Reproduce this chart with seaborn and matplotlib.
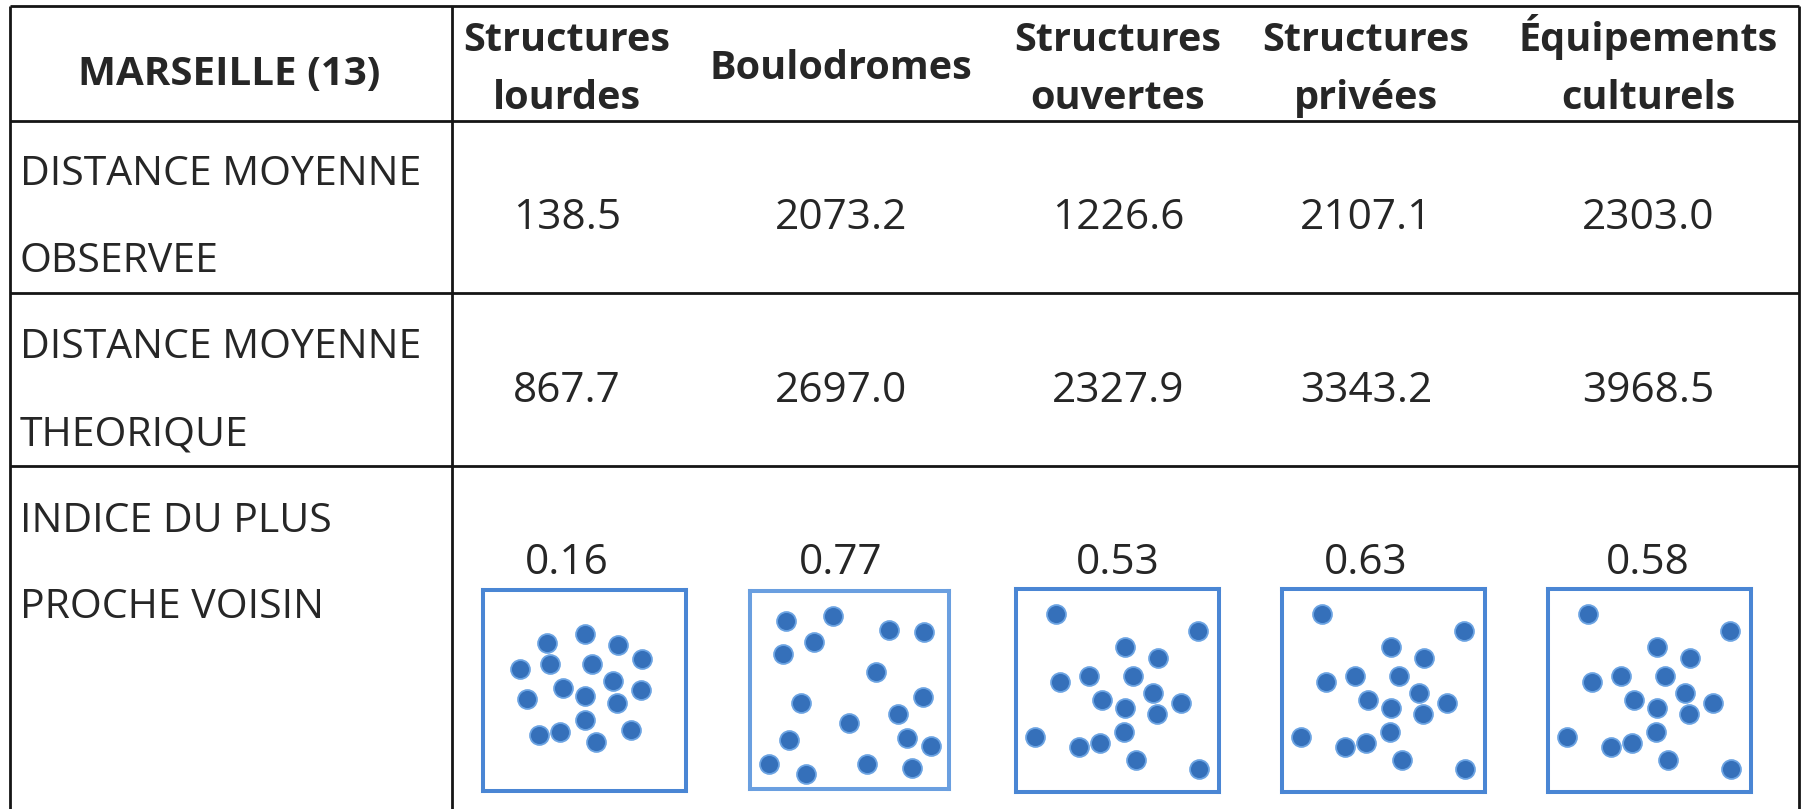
#IMPORT-------
import matplotlib
matplotlib.use('Agg')
import matplotlib.pyplot as plt
import seaborn as sns

#DATA---------
categories = ['Structures\nlourdes', 'Boulodromes', 'Structures\nouvertes',
              'Structures\nprivées', 'Équipements\nculturels']
corner_label = 'MARSEILLE (13)'
row_labels = ['DISTANCE MOYENNE\nOBSERVEE', 'DISTANCE MOYENNE\nTHEORIQUE',
              'INDICE DU PLUS\nPROCHE VOISIN']
dist_observee = [138.5, 2073.2, 1226.6, 2107.1, 2303.0]
dist_theorique = [867.7, 2697.0, 2327.9, 3343.2, 3968.5]
indice_ppv = [0.16, 0.77, 0.53, 0.63, 0.58]

#point patterns drawn in each box (fraction of box, y from top)
pts_lourdes_x = [0.313, 0.502, 0.664, 0.782, 0.180, 0.328, 0.539, 0.641, 0.392,
                 0.502, 0.779, 0.216, 0.661, 0.500, 0.275, 0.379, 0.556, 0.730]
pts_lourdes_y = [0.263, 0.220, 0.276, 0.342, 0.395, 0.367, 0.367, 0.453, 0.486,
                 0.526, 0.499, 0.540, 0.560, 0.646, 0.722, 0.704, 0.755, 0.699]
pts_boulo_x = [0.183, 0.419, 0.697, 0.872, 0.323, 0.168, 0.632, 0.255, 0.870,
               0.745, 0.498, 0.196, 0.787, 0.910, 0.097, 0.281, 0.586, 0.812]
pts_boulo_y = [0.153, 0.124, 0.195, 0.208, 0.257, 0.318, 0.410, 0.568, 0.536,
               0.622, 0.666, 0.755, 0.741, 0.785, 0.876, 0.926, 0.876, 0.892]
pts_other_x = [0.196, 0.899, 0.535, 0.698, 0.217, 0.362, 0.574, 0.674, 0.426,
               0.535, 0.811, 0.695, 0.532, 0.096, 0.310, 0.413, 0.592, 0.902]
pts_other_y = [0.123, 0.207, 0.284, 0.340, 0.456, 0.427, 0.427, 0.512, 0.545,
               0.586, 0.560, 0.616, 0.703, 0.727, 0.778, 0.757, 0.844, 0.887]
box_points = [(pts_lourdes_x, pts_lourdes_y), (pts_boulo_x, pts_boulo_y),
              (pts_other_x, pts_other_y), (pts_other_x, pts_other_y),
              (pts_other_x, pts_other_y)]

#LAYOUT (pixels)---------
W, H = 1803, 809
col_x = [567, 841, 1118, 1366, 1648]
box_l = [483, 750, 1016, 1282, 1548]
box_r = [686, 949, 1219, 1485, 1751]
box_t = [590, 591, 589, 589, 589]
box_b = [791, 789, 792, 792, 792]
box_colors = ['#4a86d4', '#6a9fe0', '#4a86d4', '#4a86d4', '#4a86d4']

#STYLE-------
sns.set_theme(style='white')
plt.rcParams['font.family'] = ['Open Sans', 'DejaVu Sans']
line_c = '#151515'
lab_size = 29.5
val_size = 30.5
bold = 28.5

fig = plt.figure(figsize=(W / 100, H / 100), dpi=100)
ax = fig.add_axes([0, 0, 1, 1])
ax.set_xlim(0, W)
ax.set_ylim(H, 0)
ax.axis('off')

#table grid
for y in [6, 121, 293, 466]:
    ax.hlines(y, 10, 1799, color=line_c, lw=2)
for x in [10, 452, 1799]:
    ax.vlines(x, 6, H, color=line_c, lw=2)

#header
ax.text(229, 85, corner_label, ha='center', va='baseline', fontsize=bold + 0.5, fontweight='bold')
for x, cat in zip(col_x, categories):
    lines = cat.split('\n')
    if len(lines) == 1:
        ax.text(x, 79, lines[0], ha='center', va='baseline', fontsize=bold, fontweight='bold')
    else:
        ax.text(x, 51, lines[0], ha='center', va='baseline', fontsize=bold, fontweight='bold')
        ax.text(x, 109, lines[1], ha='center', va='baseline', fontsize=bold, fontweight='bold')

#row labels
label_base = [(185, 272), (358, 445), (532, 618)]
for lab, (b1, b2) in zip(row_labels, label_base):
    l1, l2 = lab.split('\n')
    ax.text(20, b1, l1, ha='left', va='baseline', fontsize=lab_size)
    ax.text(20, b2, l2, ha='left', va='baseline', fontsize=lab_size)

#values
for x, v in zip(col_x, dist_observee):
    ax.text(x, 229, f'{v:.1f}', ha='center', va='baseline', fontsize=val_size)
for x, v in zip(col_x, dist_theorique):
    ax.text(x, 402, f'{v:.1f}', ha='center', va='baseline', fontsize=val_size)
for x, v in zip(col_x, indice_ppv):
    ax.text(x, 574, f'{v:.2f}', ha='center', va='baseline', fontsize=val_size)

#point pattern boxes
for i, (px, py) in enumerate(box_points):
    l, r, t, b = box_l[i], box_r[i], box_t[i], box_b[i]
    axb = fig.add_axes([l / W, 1 - b / H, (r - l) / W, (b - t) / H])
    sns.scatterplot(x=px, y=py, ax=axb, s=185, color='#3570ba',
                    edgecolor='#6ba3e2', linewidth=1.3, legend=False, zorder=3)
    axb.set_xlim(0, 1)
    axb.set_ylim(1, 0)
    axb.set_xticks([])
    axb.set_yticks([])
    axb.set_xlabel('')
    axb.set_ylabel('')
    axb.patch.set_alpha(0)
    for sp in axb.spines.values():
        sp.set_visible(True)
        sp.set_color(box_colors[i])
        sp.set_linewidth(2.9)

fig.savefig('out.png', dpi=100)
